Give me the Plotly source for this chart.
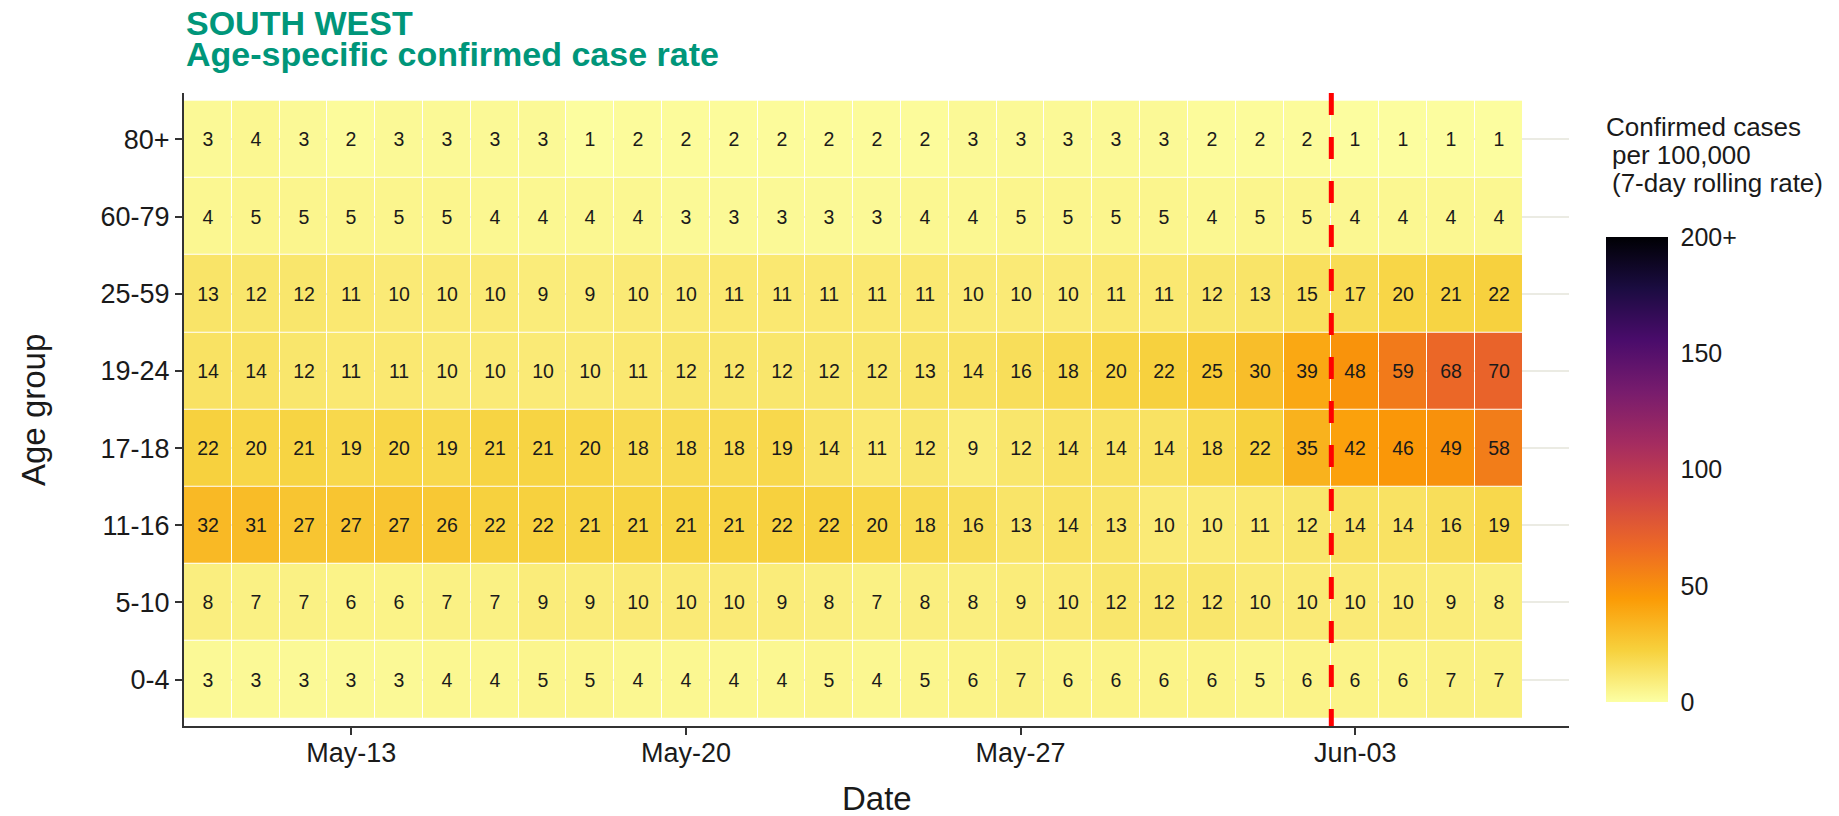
import pandas as pd
import plotly.graph_objects as go

# ---------------- data ----------------
dates = pd.date_range("2021-05-10", "2021-06-06", freq="D")
age_groups = ["0-4", "5-10", "11-16", "17-18", "19-24", "25-59", "60-79", "80+"]

rate_0_4 = [3, 3, 3, 3, 3, 4, 4, 5, 5, 4, 4, 4, 4, 5, 4, 5, 6, 7, 6, 6, 6, 6, 5, 6, 6, 6, 7, 7]
rate_5_10 = [8, 7, 7, 6, 6, 7, 7, 9, 9, 10, 10, 10, 9, 8, 7, 8, 8, 9, 10, 12, 12, 12, 10, 10, 10, 10, 9, 8]
rate_11_16 = [32, 31, 27, 27, 27, 26, 22, 22, 21, 21, 21, 21, 22, 22, 20, 18, 16, 13, 14, 13, 10, 10, 11, 12, 14, 14, 16, 19]
rate_17_18 = [22, 20, 21, 19, 20, 19, 21, 21, 20, 18, 18, 18, 19, 14, 11, 12, 9, 12, 14, 14, 14, 18, 22, 35, 42, 46, 49, 58]
rate_19_24 = [14, 14, 12, 11, 11, 10, 10, 10, 10, 11, 12, 12, 12, 12, 12, 13, 14, 16, 18, 20, 22, 25, 30, 39, 48, 59, 68, 70]
rate_25_59 = [13, 12, 12, 11, 10, 10, 10, 9, 9, 10, 10, 11, 11, 11, 11, 11, 10, 10, 10, 11, 11, 12, 13, 15, 17, 20, 21, 22]
rate_60_79 = [4, 5, 5, 5, 5, 5, 4, 4, 4, 4, 3, 3, 3, 3, 3, 4, 4, 5, 5, 5, 5, 4, 5, 5, 4, 4, 4, 4]
rate_80_plus = [3, 4, 3, 2, 3, 3, 3, 3, 1, 2, 2, 2, 2, 2, 2, 2, 3, 3, 3, 3, 3, 2, 2, 2, 1, 1, 1, 1]

x_tick_vals = ["2021-05-13", "2021-05-20", "2021-05-27", "2021-06-03"]
x_tick_text = ["May-13", "May-20", "May-27", "Jun-03"]
cbar_tick_vals = [0, 50, 100, 150, 200]
cbar_tick_text = ["0", "50", "100", "150", "200+"]
cutoff_date = "2021-06-02 12:00"

z = [rate_0_4, rate_5_10, rate_11_16, rate_17_18, rate_19_24, rate_25_59, rate_60_79, rate_80_plus]

# ---------------- geometry helpers ----------------
W, H = 1839, 816
L, R, T, B = 184, 270, 93, 90
PW, PH = W - L - R, H - T - B


def xp(px):
    return (px - L) / PW


def yp(py):
    return (H - B - py) / PH


FONT = "Liberation Sans, Arial, sans-serif"
TXT = "#1a1a1a"
AX = "#333333"

# colourbar geometry (pixels)
CB_LEFT, CB_TOP, CB_BOT, CB_W = 1606, 237, 702, 62
ZMAX = 200

fig = go.Figure()
fig.add_trace(go.Heatmap(
    x=dates, y=age_groups, z=z,
    zmin=0, zmax=ZMAX,
    colorscale="Inferno", reversescale=True,
    xgap=1, ygap=1,
    texttemplate="%{z}",
    textfont=dict(family=FONT, size=19.5, color=TXT),
    colorbar=dict(
        x=xp(CB_LEFT), xanchor="left", xpad=0,
        y=yp((CB_TOP + CB_BOT) / 2), yanchor="middle", ypad=0,
        len=CB_BOT - CB_TOP, lenmode="pixels", thickness=CB_W, thicknessmode="pixels",
        outlinewidth=0,
        tickvals=cbar_tick_vals, ticktext=cbar_tick_text,
        ticks="outside", ticklen=8, tickcolor="rgba(0,0,0,0)", tickwidth=1,
        tickfont=dict(family=FONT, size=25, color=TXT),
    ),
    hoverongaps=False,
))

fig.add_shape(type="line", xref="x", yref="paper",
              x0=cutoff_date, x1=cutoff_date, y0=1, y1=0,
              line=dict(color="#FF0000", width=5, dash="22px,22px"))

# white inner tick marks on both sides of the colour bar (ggplot style)
TK = 11
for v in cbar_tick_vals[1:-1]:
    py = CB_BOT - (CB_BOT - CB_TOP) * v / ZMAX
    for x0, x1 in [(CB_LEFT, CB_LEFT + TK), (CB_LEFT + CB_W - TK, CB_LEFT + CB_W)]:
        fig.add_shape(type="line", xref="paper", yref="paper",
                      x0=xp(x0), x1=xp(x1), y0=yp(py), y1=yp(py),
                      line=dict(color="rgba(255,255,255,0.8)", width=1.5))

fig.update_xaxes(
    range=["2021-05-09 12:00", "2021-06-07 11:20"],
    tickvals=x_tick_vals, ticktext=x_tick_text,
    showline=True, linecolor=AX, linewidth=2,
    ticks="outside", ticklen=7, tickwidth=2, tickcolor=AX,
    ticklabelstandoff=-5,
    tickfont=dict(family=FONT, size=27, color=TXT),
    showgrid=False, zeroline=False,
)
fig.update_yaxes(
    range=[-0.6, 7.6], type="category",
    categoryorder="array", categoryarray=age_groups,
    showline=True, linecolor=AX, linewidth=2,
    ticks="outside", ticklen=7, tickwidth=2, tickcolor=AX,
    tickfont=dict(family=FONT, size=27, color=TXT),
    showgrid=True, gridcolor="#EBEBE3", gridwidth=2,
    zeroline=False,
)

annots = [
    dict(text="<b>SOUTH WEST</b>", x=xp(184), y=yp(22.5), xanchor="left", yanchor="middle",
         font=dict(family=FONT, size=34, color="#00967A")),
    dict(text="<b>Age-specific confirmed case rate</b>", x=xp(184), y=yp(54.5), xanchor="left",
         yanchor="middle", font=dict(family=FONT, size=34, color="#00967A")),
    dict(text="Age group", x=xp(33), y=yp(410), textangle=-90, xanchor="center", yanchor="middle",
         font=dict(family=FONT, size=33, color=TXT)),
    dict(text="Date", x=xp(877), y=yp(799), xanchor="center", yanchor="middle",
         font=dict(family=FONT, size=33, color=TXT)),
    dict(text="Confirmed cases", x=xp(1604), y=yp(127), xanchor="left", yanchor="middle",
         font=dict(family=FONT, size=26, color=TXT)),
    dict(text="per 100,000", x=xp(1610), y=yp(155), xanchor="left", yanchor="middle",
         font=dict(family=FONT, size=26, color=TXT)),
    dict(text="(7-day rolling rate)", x=xp(1610), y=yp(183), xanchor="left", yanchor="middle",
         font=dict(family=FONT, size=26, color=TXT)),
]
for a in annots:
    a.update(xref="paper", yref="paper", showarrow=False)
fig.update_layout(annotations=annots)

fig.update_layout(
    width=W, height=H,
    margin=dict(l=L, r=R, t=T, b=B, autoexpand=False),
    plot_bgcolor="white", paper_bgcolor="white",
    font=dict(family=FONT, color=TXT),
    showlegend=False,
)

fig.write_html("out.html", config={"displayModeBar": False},
               post_script="document.body.style.margin='0px';")
